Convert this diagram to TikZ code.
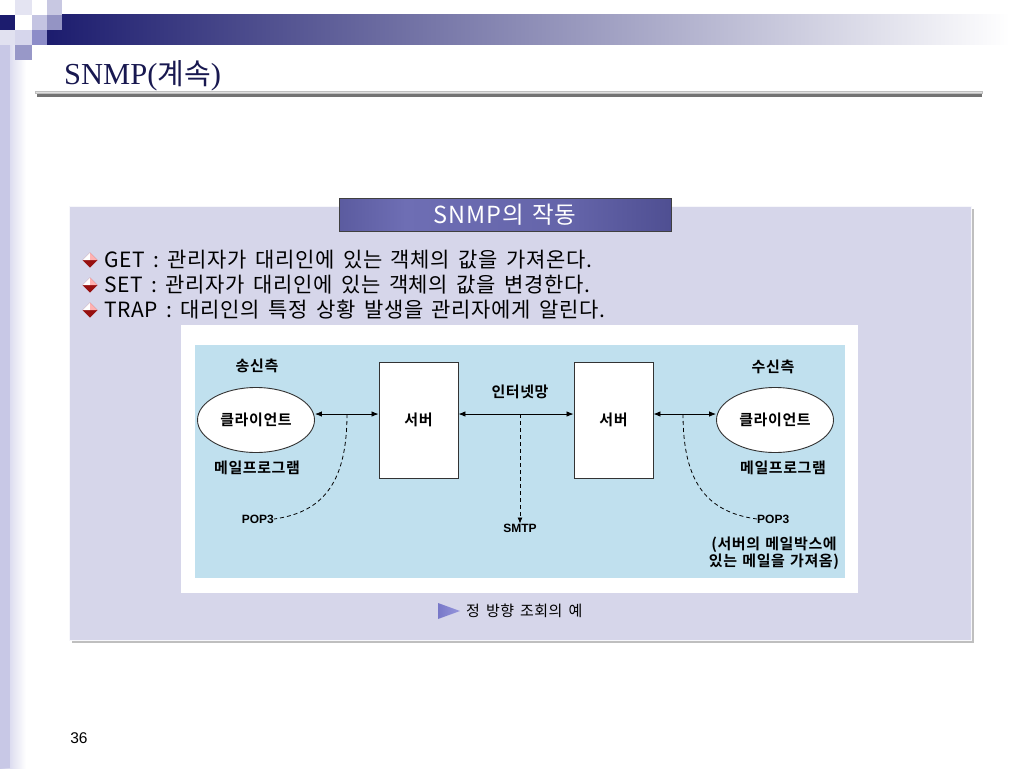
\documentclass[tikz,border=0pt]{standalone}
\usepackage{fontspec}
\setmainfont{Liberation Serif}
\newfontfamily\kr[BoldFont={Noto Sans CJK KR Bold}]{Noto Sans CJK KR}
\newfontfamily\krw[LetterSpace=3,WordSpace=1.6]{Noto Sans CJK KR}
\newfontfamily\krt[LetterSpace=4,WordSpace=1.6]{Noto Sans CJK KR}
\newfontfamily\krl[BoldFont={Noto Sans CJK KR Bold},LetterSpace=4,WordSpace=1.3]{Noto Sans CJK KR}
\newfontfamily\lsans{Liberation Sans}
\usetikzlibrary{arrows.meta,shapes.geometric}
\definecolor{navy}{RGB}{28,28,110}
\definecolor{panel}{RGB}{214,214,234}
\definecolor{skyb}{RGB}{192,224,238}
\definecolor{titled}{RGB}{44,44,108}
\definecolor{titlel}{RGB}{110,110,180}
\definecolor{bred}{RGB}{150,16,16}
\definecolor{strip}{RGB}{200,200,230}
\definecolor{sqa}{RGB}{228,228,242}
\definecolor{sqb}{RGB}{200,200,226}
\definecolor{sqc}{RGB}{196,196,226}
\definecolor{sqd}{RGB}{148,148,196}
\definecolor{sqe}{RGB}{214,214,236}
\definecolor{sqf}{RGB}{140,140,200}
\definecolor{sqg}{RGB}{152,152,200}
\definecolor{sqh}{RGB}{225,225,240}
\definecolor{titletext}{RGB}{24,24,80}
\definecolor{capl}{RGB}{120,120,200}
\definecolor{capr}{RGB}{150,150,220}
\pgfdeclarehorizontalshading{titleshade}{100bp}{color(0bp)=(titled); color(35bp)=(titlel); color(60bp)=(titlel!85!titled); color(100bp)=(titled)}
\tikzset{
  lbl/.style={font=\krl\bfseries\fontsize{15}{17.5}\selectfont, inner sep=0pt},
  bul/.style={font=\krw\fontsize{21}{24}\selectfont, anchor=west, inner sep=0pt},
  srv/.style={draw=black!80, line width=0.9pt, fill=white, minimum width=79pt, minimum height=116pt, inner sep=0pt},
  cli/.style={ellipse, draw=black!80, line width=0.9pt, fill=white, minimum width=117pt, minimum height=65pt, inner sep=0pt},
  link/.style={line width=0.8pt, {Latex[length=7pt,width=5.5pt]}-{Latex[length=7pt,width=5.5pt]}},
  dsh/.style={line width=0.8pt, dash pattern=on 4pt off 3pt},
}
\newcommand{\bulletmark}[2]{%
  \fill[bred] (#1-7.5,#2) -- (#1,#2-7.5) -- (#1+7.5,#2) -- (#1,#2+7.5) -- cycle;
  \fill[white] (#1-7.5,#2) -- (#1,#2-7.5) -- (#1,#2) -- cycle;
  \fill[red!30] (#1,#2-7.5) -- (#1+7.5,#2) -- (#1,#2) -- cycle;
}
\begin{document}
\begin{tikzpicture}[x=1pt,y=-1pt]
\useasboundingbox (0,0) rectangle (1024,768);
\fill[white] (0,0) rectangle (1024,768);
% left strip
\shade[left color=strip, right color=white] (0,45) rectangle (26,768);
\fill[strip] (0,45) rectangle (10,768);
% top squares and bar
\shade[left color=navy, right color=white] (47,15) rectangle (1010,45);
\fill[navy] (0,15) rectangle (15,30);
\fill[sqa] (15,0) rectangle (32,15);
\fill[sqb] (47,0) rectangle (62,15);
\fill[sqc] (32,15) rectangle (47,30);
\fill[sqd] (47,15) rectangle (62,30);
\fill[sqe] (15,30) rectangle (32,45);
\fill[sqf] (32,30) rectangle (47,45);
\fill[sqg] (15,45) rectangle (32,60);
\fill[sqh] (0,30) rectangle (15,45);
% title
\node[anchor=base west, inner sep=0pt, text=titletext, font=\fontsize{30.5}{33}\selectfont] (title) at (64,84) {SNMP({\kr\fontsize{29}{33}\selectfont 계속})};
\fill[black!12] (35,91) rectangle (982,93);
\draw[black!25, line width=0.5pt] (35,91) rectangle (982,93);
\fill[black!55] (37,94) rectangle (982,97);
% panel
\fill[black!25] (72,209) rectangle (974,643);
\fill[panel] (69,206) rectangle (971,640);
\draw[white!80!panel, line width=0.8pt] (69,206) rectangle (971,640);
% panel title
\node[shading=titleshade, draw=black!75, line width=0.8pt, minimum width=332pt, minimum height=33pt, inner sep=0pt, text=white, font=\krt\fontsize{23.5}{26}\selectfont] (ptitle) at (505,214.5) {SNMP의 작동};
% bullets
\bulletmark{90}{260}
\bulletmark{90}{285}
\bulletmark{90}{310}
\node[bul] (b1) at (104,260) {GET : 관리자가 대리인에 있는 객체의 값을 가져온다.};
\node[bul] (b2) at (104,285) {SET : 관리자가 대리인에 있는 객체의 값을 변경한다.};
\node[bul] (b3) at (104,310) {TRAP : 대리인의 특정 상황 발생을 관리자에게 알린다.};
% figure
\fill[white] (181,325) rectangle (858,593);
\fill[skyb] (195,345) rectangle (845,578);
\node[lbl] (send) at (257,366) {송신측};
\node[lbl] (recv) at (773,367) {수신측};
\node[cli] (c1) at (256,420) {\krl\bfseries\fontsize{15}{17.5}\selectfont 클라이언트};
\node[cli] (c2) at (775,420) {\krl\bfseries\fontsize{15}{17.5}\selectfont 클라이언트};
\node[srv] (s1) at (418.5,420) {\krl\bfseries\fontsize{15}{17.5}\selectfont 서버};
\node[srv] (s2) at (613.5,420) {\krl\bfseries\fontsize{15}{17.5}\selectfont 서버};
\node[lbl] (m1) at (257,468) {메일프로그램};
\node[lbl] (m2) at (783,468) {메일프로그램};
\node[lbl] (net) at (520,392) {인터넷망};
\node[lbl, font=\lsans\bfseries\fontsize{12}{14}\selectfont] (smtp) at (520,528) {SMTP};
\node[lbl, font=\lsans\bfseries\fontsize{12}{14}\selectfont, anchor=east] (pop1) at (274,519) {POP3};
\node[lbl, font=\lsans\bfseries\fontsize{12}{14}\selectfont, anchor=west] (pop2) at (757,519) {POP3};
\node[lbl, align=center, font=\krl\bfseries\fontsize{15}{17}\selectfont] (note) at (774,553) {(서버의 메일박스에\\있는 메일을 가져옴)};
% connectors
\draw[link] (c1.east |- 0,414) -- (s1.west |- 0,414);
\draw[link] (s1.east |- 0,414) -- (s2.west |- 0,414);
\draw[link] (s2.east |- 0,414) -- (c2.west |- 0,414);
\coordinate (d1) at (347,414);
\coordinate (d2) at (520,414);
\coordinate (d3) at (683,414);
\draw[dsh] (d1) .. controls (347,480) and (325,512) .. (pop1.east);
\draw[dsh, -{Latex[length=6pt,width=5pt]}] (d2) -- (smtp.north);
\draw[dsh] (d3) .. controls (683,480) and (705,512) .. (pop2.west);
% caption
\shade[left color=capl, right color=capr] (438,603) -- (460,611) -- (438,619) -- cycle;
\node[anchor=west, inner sep=0pt, font=\krw\fontsize{15}{17}\selectfont] (cap) at (466,611) {정 방향 조회의 예};
% page number
\node[inner sep=0pt, font=\lsans\fontsize{15.5}{17}\selectfont] (pg) at (79,738) {36};
\end{tikzpicture}
\end{document}
